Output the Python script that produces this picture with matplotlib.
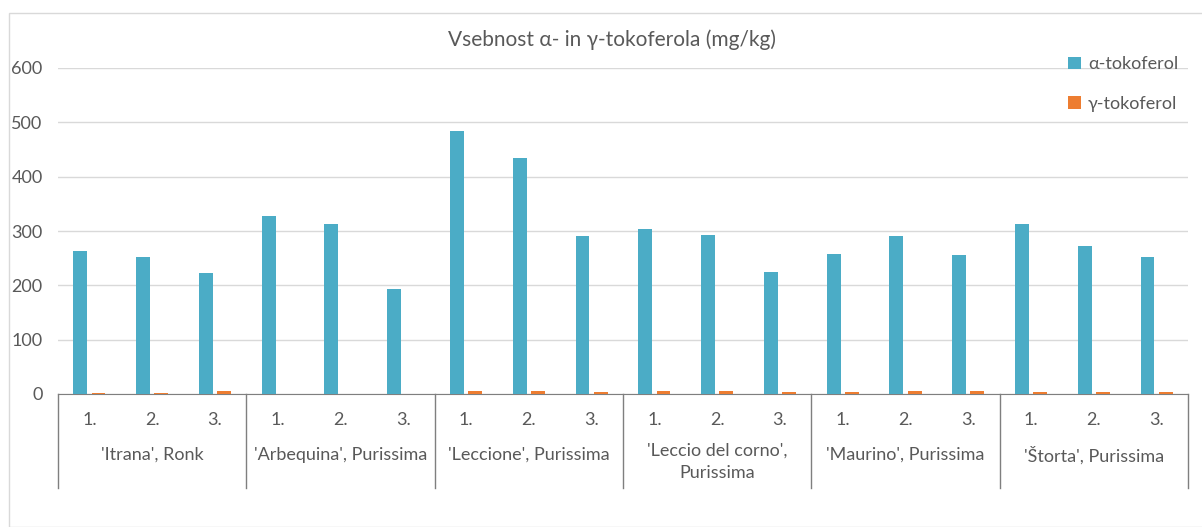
import numpy as np
import matplotlib
matplotlib.use('Agg')
from matplotlib import pyplot as plt
from matplotlib.patches import Rectangle
from matplotlib.transforms import blended_transform_factory

plt.rcParams['font.family'] = ['Lato', 'DejaVu Sans']

groups = ["'Itrana', Ronk", "'Arbequina', Purissima", "'Leccione', Purissima",
          "'Leccio del corno',\nPurissima", "'Maurino', Purissima", "'Štorta', Purissima"]
samples = ['1.', '2.', '3.']
alpha_vals = [263, 252, 223,
              328, 313, 194,
              484, 434, 291,
              304, 293, 225,
              258, 291, 256,
              313, 272, 252]
gamma_vals = [2, 2, 6,
              0, 0, 0,
              6, 6, 4,
              6, 6, 4,
              4, 6, 6,
              4, 4, 4]

C_ALPHA = '#4BACC6'
C_GAMMA = '#ED7D31'
TXT = '#595959'

fig = plt.figure(figsize=(12.02, 5.27), dpi=100)
fig.patches.append(Rectangle((9/1202, 0), 1.0, 1 - 13/527, transform=fig.transFigure,
                             fill=False, edgecolor='#D9D9D9', lw=1))
ax = fig.add_axes([58/1202, 1 - 394/527, 1130/1202, 326/527])

n = len(alpha_vals)
x = np.arange(n)
w = 0.22
ax.bar(x - 0.145, alpha_vals, w, color=C_ALPHA, label='α-tokoferol', zorder=3)
ax.bar(x + 0.145, gamma_vals, w, color=C_GAMMA, label='γ-tokoferol', zorder=3)

ax.set_xlim(-0.5, n - 0.5)
ax.set_ylim(0, 600)
ax.set_yticks(range(0, 601, 100))
ax.yaxis.grid(True, color='#D9D9D9', lw=1)
ax.set_axisbelow(True)
ax.tick_params(axis='y', length=0, pad=11, labelsize=13, labelcolor=TXT)
ax.set_xticks([])
for s in ['top', 'right', 'left']:
    ax.spines[s].set_visible(False)
ax.spines['bottom'].set_color('#7F7F7F')

# two-level category axis
tr = blended_transform_factory(ax.transData, ax.transAxes)
for i in range(n):
    ax.text(i, -26/326, samples[i % 3], transform=tr, ha='center', va='center',
            fontsize=13, color=TXT)
for g, name in enumerate(groups):
    if '\n' in name:
        ax.text(g * 3 + 1, -49/326, name, transform=tr, ha='center', va='top',
                fontsize=13, color=TXT, linespacing=1.45)
    else:
        ax.text(g * 3 + 1, -61/326, name, transform=tr, ha='center', va='center',
                fontsize=13, color=TXT)
for b in range(len(groups) + 1):
    ax.plot([b * 3 - 0.5] * 2, [0, -94/326], transform=tr, color='#7F7F7F', lw=1,
            clip_on=False)

fig.text(612/1202, 1 - 40/527, 'Vsebnost α- in γ-tokoferola (mg/kg)', ha='center', va='center',
         fontsize=15, color=TXT)

ax.legend(loc='upper left', bbox_to_anchor=(1052/1202, 1 - 40/527), bbox_transform=fig.transFigure,
          frameon=False, fontsize=13, labelcolor=TXT, handlelength=0.7, handleheight=0.7,
          handletextpad=0.4, labelspacing=1.3)

fig.savefig('out.png', dpi=100)
